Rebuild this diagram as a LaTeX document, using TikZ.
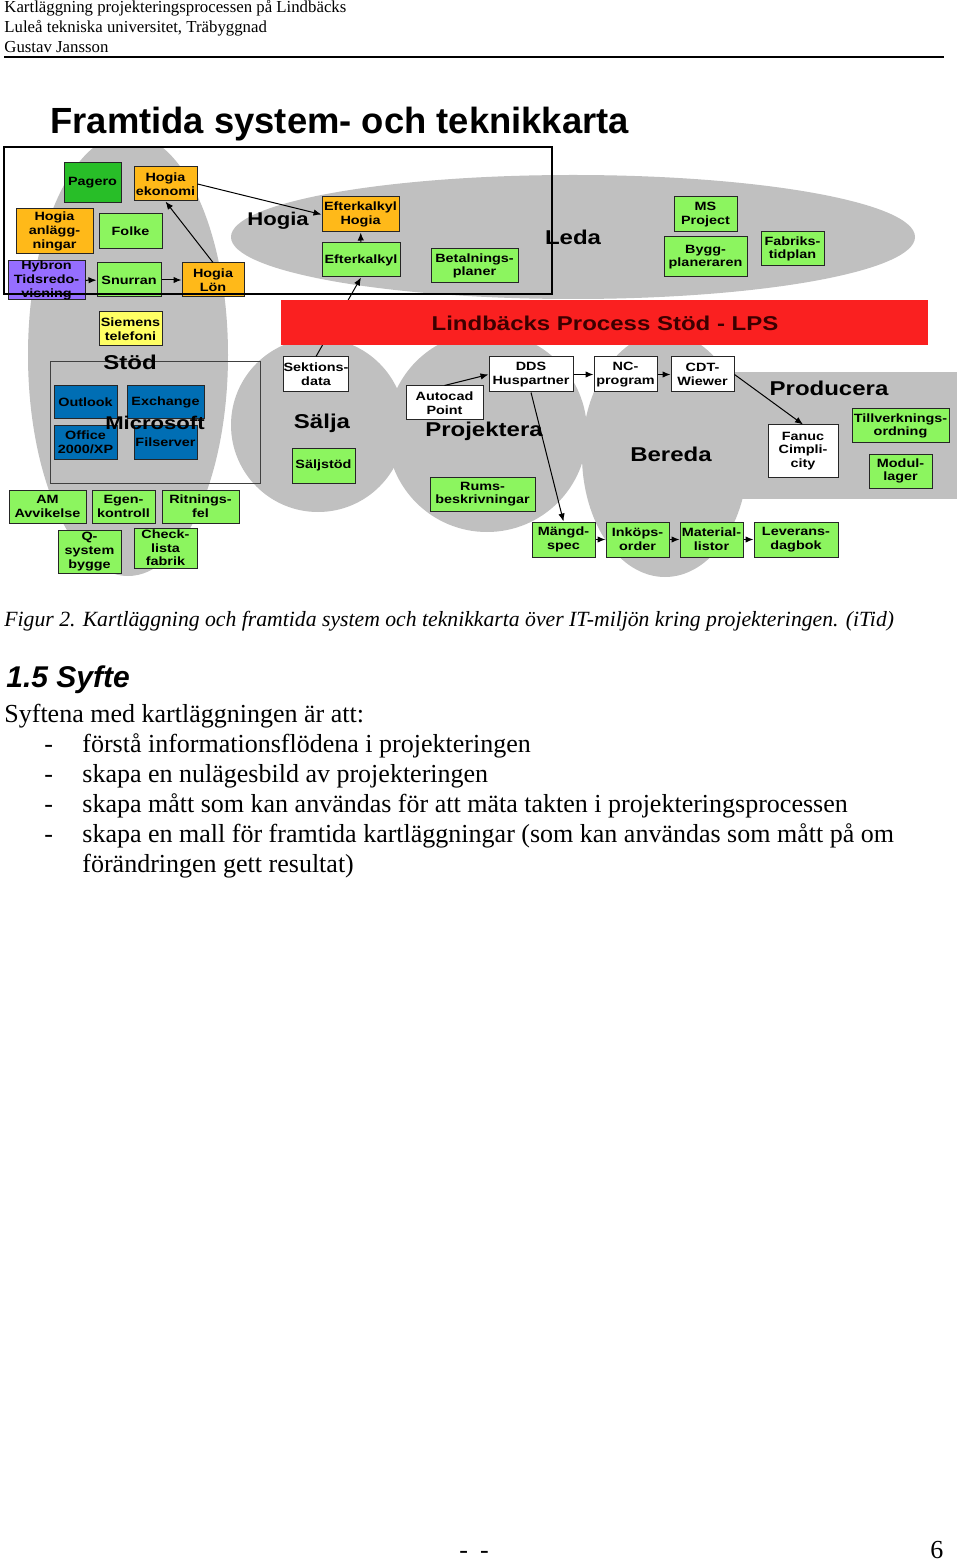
\documentclass[tikz,border=0pt]{standalone}
\usepackage{fontspec}
\setmainfont{Liberation Serif}
\newfontfamily\arialfont{Liberation Sans}
\newfontfamily\diagfont[FakeStretch=1.2]{Liberation Sans}
\usetikzlibrary{arrows.meta}
\definecolor{areagray}{RGB}{192,192,192}
\definecolor{boxgreen}{RGB}{140,245,95}
\definecolor{pagerogreen}{RGB}{40,190,40}
\definecolor{boxorange}{RGB}{255,185,25}
\definecolor{boxpurple}{RGB}{150,110,255}
\definecolor{boxblue}{RGB}{0,110,180}
\definecolor{boxyellow}{RGB}{255,255,100}
\definecolor{lpsred}{RGB}{250,32,32}
\definecolor{lpstext}{RGB}{60,0,0}
\begin{document}
\begin{tikzpicture}[x=0.5pt, y=-0.5pt,
    box/.style={draw=black!85, line width=0.5pt, inner sep=0pt, align=center,
        font=\diagfont\bfseries\fontsize{6}{6.8}\selectfont},
    sz/.style 2 args={minimum width=#1*0.5pt, minimum height=#2*0.5pt},
    greenbox/.style={box, fill=boxgreen},
    orangebox/.style={box, fill=boxorange},
    bluebox/.style={box, fill=boxblue},
    whitebox/.style={box, fill=white},
    area/.style={inner sep=0pt, font=\diagfont\bfseries\fontsize{10}{12}\selectfont},
    link/.style={-{Latex[length=4pt,width=3.2pt]}, line width=0.5pt},
    prose/.style={anchor=base west, inner sep=0pt, font=\fontsize{13}{15}\selectfont}]
    \useasboundingbox[fill=white] (0,0) rectangle (960,1561);

    \node[anchor=base west, inner sep=0pt, font=\fontsize{8.4}{9}\selectfont] (head1) at (4,13) {Kartläggning projekteringsprocessen på Lindbäcks};
    \node[anchor=base west, inner sep=0pt, font=\fontsize{8.4}{9}\selectfont] (head2) at (4,33) {Luleå tekniska universitet, Träbyggnad};
    \node[anchor=base west, inner sep=0pt, font=\fontsize{8.4}{9}\selectfont] (head3) at (4,53) {Gustav Jansson};
    \draw[line width=1pt] (4,57.5) -- (944,57.5);

    \node[anchor=base west, inner sep=0pt, font=\arialfont\bfseries\fontsize{18.2}{20}\selectfont] (title) at (50,134) {Framtida system- och teknikkarta};

    \begin{scope}
        \clip (0,149) rectangle (300,600);
        \fill[areagray] (128,355) ellipse [x radius=50pt, y radius=110.5pt];
    \end{scope}
    \fill[areagray] (573,237) ellipse [x radius=171pt, y radius=31pt];
    \fill[areagray] (318,425) circle [radius=43.5pt];
    \fill[areagray] (487,432) circle [radius=50pt];
    \fill[areagray] (665,455) ellipse [x radius=41.5pt, y radius=61pt];
    \fill[areagray] (700,372) rectangle (957,499);

    \node[box, fill=pagerogreen, sz={57}{40}] (pagero) at (92.5,183) {Pagero};
    \node[orangebox, sz={63}{34}] (hekon) at (165.5,184) {Hogia\\ekonomi};
    \node[orangebox, sz={77}{45}] (hanlagg) at (54.5,231.5) {Hogia\\anlägg-\\ningar};
    \node[greenbox, sz={63}{35}] (folke) at (130.5,231.5) {Folke};
    \node[box, fill=boxpurple, sz={77}{39}] (hybron) at (46.5,280.5) {Hybron\\Tidsredo-\\visning};
    \node[greenbox, sz={64}{34}] (snurran) at (129,280) {Snurran};
    \node[orangebox, sz={62}{34}] (hlon) at (213,280) {Hogia\\Lön};
    \node[orangebox, sz={77}{35}] (efthogia) at (360.5,214.5) {Efterkalkyl\\Hogia};
    \node[greenbox, sz={78}{34}] (efterk) at (361,260) {Efterkalkyl};
    \node[greenbox, sz={87}{34}] (betaln) at (474.5,266) {Betalnings-\\planer};
    \node[greenbox, sz={63}{35}] (msproj) at (705.5,214.5) {MS\\Project};
    \node[greenbox, sz={83}{40}] (byggpl) at (705.5,257) {Bygg-\\planeraren};
    \node[greenbox, sz={63}{34}] (fabrtid) at (792.5,249) {Fabriks-\\tidplan};

    \node[box, fill=boxyellow, sz={63}{34}] (siemens) at (130.5,329) {Siemens\\telefoni};
    \draw[draw=black!75, line width=0.5pt] (50,362) rectangle (260,483);
    \node[bluebox, sz={63}{33}] (outlook) at (85.5,402.5) {Outlook};
    \node[bluebox, sz={77}{33}] (exchange) at (165.5,402.5) {Exchange};
    \node[bluebox, sz={63}{33}] (office) at (85.5,442.5) {Office\\2000/XP};
    \node[bluebox, sz={63}{33}] (filserv) at (165.5,442.5) {Filserver};
    \node[greenbox, sz={77}{33}] (amavv) at (47.5,506.5) {AM\\Avvikelse};
    \node[greenbox, sz={63}{33}] (egenk) at (123.5,506.5) {Egen-\\kontroll};
    \node[greenbox, sz={77}{33}] (ritnfel) at (200.5,506.5) {Ritnings-\\fel};
    \node[greenbox, sz={63}{43}] (qsys) at (89.5,551.5) {Q-\\system\\bygge};
    \node[greenbox, sz={63}{40}] (checkl) at (165.5,548) {Check-\\lista\\fabrik};

    \node[whitebox, sz={64}{35}] (sektdata) at (316,374.5) {Sektions-\\data};
    \node[greenbox, sz={63}{35}] (saljstod) at (323.5,465.5) {Säljstöd};
    \node[whitebox, sz={77}{34}] (autocad) at (444.5,403) {Autocad\\Point};
    \node[whitebox, sz={84}{35}] (dds) at (531,374.5) {DDS\\Huspartner};
    \node[greenbox, sz={105}{34}] (rumsb) at (482.5,494) {Rums-\\beskrivningar};
    \node[greenbox, sz={63}{35}] (mangd) at (563.5,539.5) {Mängd-\\spec};
    \node[whitebox, sz={63}{35}] (ncprog) at (625.5,374.5) {NC-\\program};
    \node[whitebox, sz={63}{35}] (cdt) at (702.5,374.5) {CDT-\\Wiewer};
    \node[greenbox, sz={97}{34}] (tillv) at (900.5,426) {Tillverknings-\\ordning};
    \node[whitebox, sz={70}{52}] (fanuc) at (803,451) {Fanuc\\Cimpli-\\city};
    \node[greenbox, sz={63}{34}] (modul) at (900.5,471) {Modul-\\lager};
    \node[greenbox, sz={63}{35}] (inkop) at (637.5,539.5) {Inköps-\\order};
    \node[greenbox, sz={63}{35}] (matlist) at (711.5,539.5) {Material-\\listor};
    \node[greenbox, sz={84}{35}] (leverans) at (796,539.5) {Leverans-\\dagbok};

    \draw[link] (hybron) -- (snurran);
    \draw[link] (snurran) -- (hlon);
    \draw[link] (hlon.north) -- (hekon.south);
    \draw[link] (hekon.east) -- (efthogia.west);
    \draw[link] (efterk) -- (efthogia);
    \draw[link] (sektdata.north) -- (efterk.south);
    \draw[link] (autocad.north) -- (dds.west);
    \draw[link] (dds) -- (ncprog);
    \draw[link] (ncprog) -- (cdt);
    \draw[link] (cdt.east) -- (fanuc.north);
    \draw[link] (dds.south) -- (mangd.north);
    \draw[link] (mangd) -- (inkop);
    \draw[link] (inkop) -- (matlist);
    \draw[link] (matlist) -- (leverans);

    \fill[lpsred] (281,300) rectangle (928,345);
    \draw[line width=0.6pt] (4,147) rectangle (552,294);

    \node[area, font=\diagfont\bfseries\fontsize{9.2}{11}\selectfont] (hogialbl) at (278,221) {Hogia};
    \node[area] (ledalbl) at (573,237) {Leda};
    \node[area, text=lpstext] (lpslbl) at (605,323) {Lindbäcks Process Stöd - LPS};
    \node[area] (stodlbl) at (130,362) {Stöd};
    \node[area, font=\diagfont\bfseries\fontsize{9.2}{11}\selectfont] (mslbl) at (155,423) {Microsoft};
    \node[area] (saljalbl) at (322,423) {Sälja};
    \node[area] (projlbl) at (484,431) {Projektera};
    \node[area] (beredalbl) at (671,454) {Bereda};
    \node[area] (prodlbl) at (829,388) {Producera};

    \node[anchor=base west, inner sep=0pt, font=\itshape\fontsize{10.85}{12}\selectfont] (caption) at (4,626) {Figur 2. Kartläggning och framtida system och teknikkarta över IT-miljön kring projekteringen. (iTid)};
    \node[anchor=base west, inner sep=0pt, font=\arialfont\bfseries\itshape\fontsize{15}{18}\selectfont] (section) at (6,687) {1.5 Syfte};
    \node[prose] (intro) at (4,722) {Syftena med kartläggningen är att:};
    \node[prose] (dash1) at (44,752) {-};
    \node[prose] (item1) at (82,752) {förstå informationsflödena i projekteringen};
    \node[prose] (dash2) at (44,782) {-};
    \node[prose] (item2) at (82,782) {skapa en nulägesbild av projekteringen};
    \node[prose] (dash3) at (44,812) {-};
    \node[prose] (item3) at (82,812) {skapa mått som kan användas för att mäta takten i projekteringsprocessen};
    \node[prose] (dash4) at (44,842) {-};
    \node[prose] (item4) at (82,842) {skapa en mall för framtida kartläggningar (som kan användas som mått på om};
    \node[prose] (item4b) at (82,872) {förändringen gett resultat)};

    \node[prose] (pagefield) at (459,1558) {-\hspace{6pt}-};
    \node[prose] (pagenum) at (930,1558) {6};
\end{tikzpicture}
\end{document}
